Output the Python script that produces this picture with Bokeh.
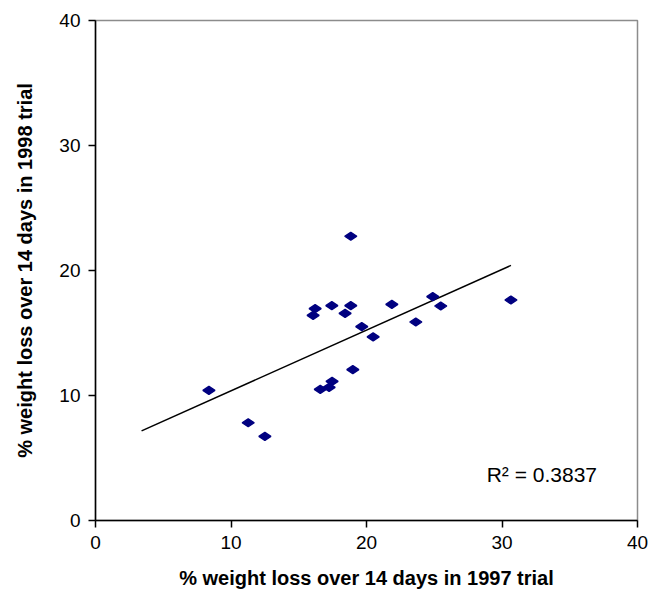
import numpy as np
from bokeh.plotting import figure
from bokeh.models import Range1d, Label, FixedTicker, ColumnDataSource
from bokeh.embed import file_html
from bokeh.resources import INLINE

# % weight loss over 14 days: 1997 trial (x) vs 1998 trial (y)
x_1997 = [18.84, 16.21, 16.06, 17.44, 18.84, 18.42, 19.65, 20.49, 18.99, 17.46,
          16.59, 17.24, 8.37, 11.27, 12.50, 21.87, 24.89, 25.48, 23.64, 30.66]
y_1998 = [22.74, 16.95, 16.41, 17.19, 17.19, 16.57, 15.51, 14.69, 12.07, 11.13,
          10.49, 10.65, 10.41, 7.82, 6.73, 17.29, 17.91, 17.16, 15.88, 17.64]
axis_ticks = [0, 10, 20, 30, 40]
trend_start = 3.4          # trendline drawn back to this x (backward forecast)
r2_text = "R\u00b2 = 0.3837"
x_title = "% weight loss over 14 days in 1997 trial"
y_title = "% weight loss over 14 days in 1998 trial"

slope, intercept = np.polyfit(x_1997, y_1998, 1)
trend_x = [trend_start, max(x_1997)]
trend_y = [intercept + slope * v for v in trend_x]

p = figure(width=652, height=592, output_backend="svg", toolbar_location=None,
           x_range=Range1d(0, 40), y_range=Range1d(0, 40),
           min_border_left=95, min_border_right=15, min_border_top=20, min_border_bottom=72)
p.background_fill_color = "white"
p.border_fill_color = "white"
p.outline_line_color = "#8c8c8c"
p.outline_line_width = 1.5
p.xgrid.visible = False
p.ygrid.visible = False

for ax in (p.xaxis[0], p.yaxis[0]):
    ax.ticker = FixedTicker(ticks=axis_ticks)
    ax.minor_tick_line_color = None
    ax.major_tick_in = 0
    ax.major_tick_out = 7
    ax.major_tick_line_color = "black"
    ax.axis_line_color = "black"
    ax.axis_line_width = 1.5
    ax.major_tick_line_width = 1.5
    ax.major_label_text_font = "Liberation Sans"
    ax.major_label_text_font_size = "19px"
    ax.major_label_text_color = "black"
    ax.major_label_standoff = 8
    ax.axis_label_text_font = "Liberation Sans"
    ax.axis_label_text_font_style = "bold"
    ax.axis_label_text_color = "black"

p.xaxis.axis_label = x_title
p.xaxis.axis_label_text_font_size = "20px"
p.xaxis.axis_label_standoff = 15
p.yaxis.axis_label = y_title
p.yaxis.axis_label_text_font_size = "20px"
p.yaxis.axis_label_standoff = 20

p.line(trend_x, trend_y, line_color="black", line_width=1.5)

src = ColumnDataSource(dict(x=x_1997, y=y_1998))
p.scatter("x", "y", source=src, marker="diamond", size=12, angle=np.pi / 2,
          fill_color="#000080", line_color="#000080", line_width=1.5)

p.add_layout(Label(x=28.87, y=3.68, text=r2_text, text_font="Liberation Sans",
                   text_font_size="21px", text_color="black", text_baseline="alphabetic"))

open("out.html", "w").write(file_html(p, INLINE))
